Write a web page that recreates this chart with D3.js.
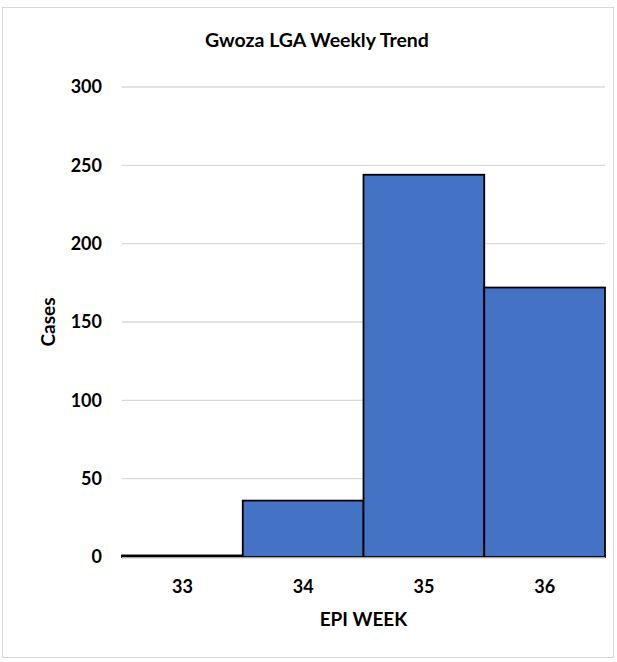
<!DOCTYPE html>
<html>
<head>
<style>
  body { margin: 0; background: #fff; }
  svg text { font-family: Lato, "Liberation Sans", sans-serif; font-weight: bold; fill: #000; }
</style>
</head>
<body>
<svg id="chart" width="617" height="662"></svg>
<script src="https://cdn.jsdelivr.net/npm/d3@7/dist/d3.min.js"></script>
<script>
// data
var weeks = ["33", "34", "35", "36"];
var cases = [1, 36, 244, 172];
var yTicks = [0, 50, 100, 150, 200, 250, 300];

var svg = d3.select("#chart");
var plotLeft = 122, plotRight = 605, plotTop = 87, plotBottom = 557;

// outer border
svg.append("rect")
   .attr("x", 2.5).attr("y", 7.5)
   .attr("width", 611).attr("height", 650)
   .attr("fill", "#fff")
   .attr("stroke", "#d9d9d9");

var x = d3.scaleBand().domain(weeks).range([plotLeft, plotRight]).padding(0);
var y = d3.scaleLinear().domain([0, 300]).range([plotBottom, plotTop]);

// gridlines
svg.append("g")
   .selectAll("line")
   .data(yTicks.slice(1))
   .enter()
   .append("line")
   .attr("x1", plotLeft).attr("x2", plotRight)
   .attr("y1", function (d) { return y(d); })
   .attr("y2", function (d) { return y(d); })
   .attr("stroke", "#d9d9d9")
   .attr("stroke-width", 1.3);

// bars
svg.append("g")
   .selectAll("rect")
   .data(cases)
   .enter()
   .append("rect")
   .attr("x", function (d, i) { return x(weeks[i]); })
   .attr("y", function (d) { return y(d); })
   .attr("width", x.bandwidth())
   .attr("height", function (d) { return plotBottom - y(d); })
   .attr("fill", "#4472C4")
   .attr("stroke", "#000")
   .attr("stroke-width", 1.8);

// baseline
svg.append("line")
   .attr("x1", plotLeft).attr("x2", plotRight)
   .attr("y1", plotBottom + 1).attr("y2", plotBottom + 1)
   .attr("stroke", "#d9d9d9")
   .attr("stroke-width", 1.3);

// y axis
var yAxis = svg.append("g")
   .attr("transform", "translate(102,0)")
   .call(d3.axisLeft(y).tickValues(yTicks).tickSize(0).tickPadding(0));
yAxis.select(".domain").remove();
yAxis.selectAll("text")
     .attr("font-size", "18px")
     .attr("font-family", null);

// x axis
var xAxis = svg.append("g")
   .attr("transform", "translate(0,580)")
   .call(d3.axisBottom(x).tickSize(0).tickPadding(0));
xAxis.select(".domain").remove();
xAxis.selectAll("text")
     .attr("font-size", "18px")
     .attr("font-family", null);

// titles
svg.append("text")
   .attr("x", 317).attr("y", 47)
   .attr("text-anchor", "middle")
   .attr("font-size", "19.5px")
   .text("Gwoza LGA Weekly Trend");

svg.append("text")
   .attr("x", (plotLeft + plotRight) / 2).attr("y", 626)
   .attr("text-anchor", "middle")
   .attr("font-size", "19px")
   .text("EPI WEEK");

svg.append("text")
   .attr("transform", "translate(55," + ((plotTop + plotBottom) / 2) + ") rotate(-90)")
   .attr("text-anchor", "middle")
   .attr("font-size", "19px")
   .text("Cases");
</script>
</body>
</html>
